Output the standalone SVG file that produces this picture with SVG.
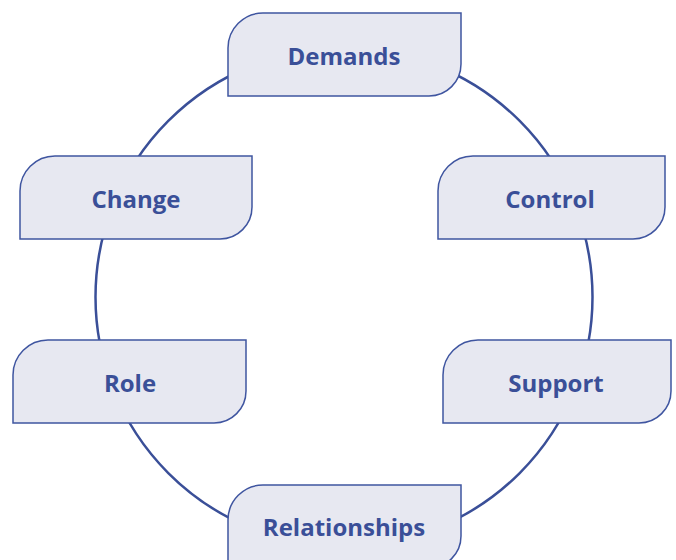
<svg xmlns="http://www.w3.org/2000/svg" width="676" height="560" viewBox="0 0 676 560">
<style>
.box{fill:#e7e8f1;stroke:#3f55a0;stroke-width:1.5}
.lbl{font-family:"Open Sans","Noto Sans",sans-serif;font-weight:700;font-size:24px;fill:#3a4f98;text-anchor:middle;dominant-baseline:central}
.ring{fill:none;stroke:#3a4f98;stroke-width:2.5}
</style>
<rect width="676" height="560" fill="#ffffff"/>
<g id="connectors">
<ellipse class="ring" cx="344" cy="297" rx="248.5" ry="249"/>
</g>
<g id="demands">
<path class="box" d="M263,13 H461 V64 A32,32 0 0 1 429,96 H228 V48 A35,35 0 0 1 263,13 Z"/>
<text class="lbl" x="344" y="55">Demands</text>
</g>
<g id="change">
<path class="box" d="M55,156 H252 V207 A32,32 0 0 1 220,239 H20 V191 A35,35 0 0 1 55,156 Z"/>
<text class="lbl" x="136" y="198">Change</text>
</g>
<g id="control">
<path class="box" d="M473,156 H665 V207 A32,32 0 0 1 633,239 H438 V191 A35,35 0 0 1 473,156 Z"/>
<text class="lbl" x="550" y="198">Control</text>
</g>
<g id="role">
<path class="box" d="M48,340 H246 V391 A32,32 0 0 1 214,423 H13 V375 A35,35 0 0 1 48,340 Z"/>
<text class="lbl" x="130" y="382">Role</text>
</g>
<g id="support">
<path class="box" d="M478,340 H671 V391 A32,32 0 0 1 639,423 H443 V375 A35,35 0 0 1 478,340 Z"/>
<text class="lbl" x="556" y="382">Support</text>
</g>
<g id="relationships">
<path class="box" d="M263,485 H461 V536 A32,32 0 0 1 429,568 H228 V520 A35,35 0 0 1 263,485 Z"/>
<text class="lbl" x="344" y="526">Relationships</text>
</g>
</svg>
